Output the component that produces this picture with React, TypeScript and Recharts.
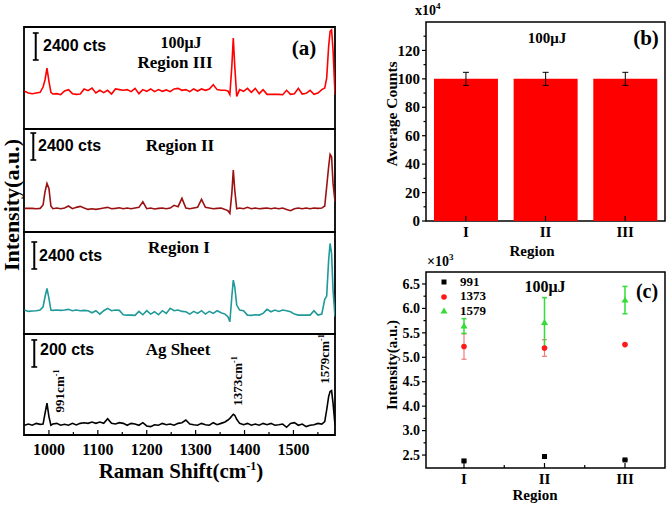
import React from "react";
import {
  LineChart,
  Line,
  XAxis,
  YAxis,
  ReferenceArea,
  ReferenceLine,
  BarChart,
  Bar,
  ErrorBar,
  ScatterChart,
  Scatter,
} from "recharts";

// ---- panel (a): SERS spectra, counts ----
const ramanShift = [
  950, 958, 966, 974, 982, 988, 992, 996, 1000, 1004, 1008, 1016, 1024, 1032, 1040, 1048, 1056, 1064,
  1072, 1080, 1088, 1096, 1104, 1112, 1120, 1128, 1136, 1144, 1152, 1160, 1168, 1176, 1184, 1192, 1200,
  1208, 1216, 1224, 1232, 1240, 1248, 1256, 1264, 1272, 1280, 1288, 1296, 1304, 1312, 1320, 1328, 1336,
  1344, 1352, 1360, 1366, 1370, 1374, 1377, 1380, 1384, 1390, 1398, 1406, 1414, 1422, 1430, 1438, 1446,
  1454, 1462, 1470, 1478, 1486, 1494, 1502, 1510, 1518, 1526, 1534, 1542, 1550, 1558, 1564, 1568, 1572,
  1575, 1578, 1581, 1585,
];

const regionIIICounts = [
  3350, 3200, 3140, 3200, 3260, 3730, 4380, 5420, 4240, 3260, 3110, 3140, 3050, 3380, 3500, 3140, 3080, 3110,
  3560, 3410, 3640, 3200, 3440, 3230, 3440, 3110, 3560, 3500, 3440, 3500, 3320, 3610, 3140, 3500, 3350,
  3560, 3320, 3500, 3350, 3470, 3320, 3560, 3610, 3440, 3500, 3320, 3560, 3380, 3560, 3440, 3560, 3940,
  3500, 3440, 3440, 3380, 3050, 5570, 8080, 5570, 2900, 3500, 3350, 3610, 3260, 3610, 3140, 3500, 3080,
  3080, 3080, 3080, 3050, 3440, 3080, 3140, 3610, 3110, 3170, 3440, 3080, 3200, 3500, 3640, 4530, 7340,
  8680, 8820, 7050, 3050,
];

const regionIICounts = [
  2100, 2100, 2100, 2070, 2100, 2400, 3580, 4320, 3880, 2310, 2070, 2130, 2070, 2130, 2310, 2070, 2190, 2280,
  2130, 2010, 2070, 2010, 2070, 2130, 2190, 2070, 2100, 2160, 2070, 2130, 2070, 2130, 2190, 2690, 2070,
  2130, 2040, 2100, 2130, 2070, 2130, 2370, 2250, 2990, 2130, 2070, 2130, 2190, 2900, 2190, 2130, 2070,
  2100, 2130, 2010, 1890, 1660, 3430, 5500, 3730, 2070, 2130, 2070, 2190, 2070, 2130, 2070, 2100, 2130,
  2070, 2130, 2070, 2130, 2010, 1890, 2070, 2130, 2070, 2130, 2070, 2130, 2100, 2130, 2310, 4020, 5800,
  6900, 6690, 4320, 2690,
];

const regionICounts = [
  2130, 2010, 2040, 2070, 2130, 2420, 3310, 4050, 3170, 2130, 2100, 2130, 2100, 2130, 2190, 2070, 2130, 2070,
  2100, 2070, 1890, 2070, 1770, 2070, 2280, 2070, 2130, 2100, 1710, 1680, 1680, 1660, 2010, 1710, 2070,
  1770, 1980, 1710, 2070, 1830, 2280, 2070, 2130, 2010, 1980, 1770, 2010, 1830, 2070, 1770, 2010, 1830,
  2070, 1890, 1770, 1540, 1090, 3310, 4790, 4200, 2570, 2130, 2070, 1680, 1660, 1710, 1680, 1830, 2190,
  1980, 2130, 2010, 2130, 2070, 1980, 1770, 1680, 1680, 1680, 1680, 2070, 1680, 1770, 3080, 3370, 6570,
  8050, 7160, 3900, 1540,
];

const agSheetCounts = [
  72, 81, 72, 86, 79, 81, 160, 235, 136, 72, 81, 86, 72, 79, 72, 86, 74, 86,
  91, 86, 96, 86, 96, 86, 121, 86, 81, 91, 86, 72, 86, 81, 72, 91, 67,
  62, 76, 72, 86, 76, 81, 72, 86, 91, 111, 81, 76, 72, 86, 76, 72, 91,
  76, 86, 96, 111, 123, 141, 153, 146, 116, 86, 76, 86, 72, 81, 72, 86, 76,
  86, 72, 76, 81, 57, 86, 91, 72, 81, 62, 72, 76, 86, 81, 99, 185, 284,
  321, 328, 235, 74,
];

const shiftTicks = [1000, 1050, 1100, 1150, 1200, 1250, 1300, 1350, 1400, 1450, 1500, 1550];
const shiftLabels = ["1000", "", "1100", "", "1200", "", "1300", "", "1400", "", "1500", ""];

// ---- panel (b): average counts (x10^4) ----
const regions = ["I", "II", "III"];
const averageCounts = [100, 100, 100];
const averageCountsErr = [4.6, 4.6, 4.6];
const countTicks = [0, 10, 20, 30, 40, 50, 60, 70, 80, 90, 100, 110, 120, 130];
const countLabels = ["0", "", "20", "", "40", "", "60", "", "80", "", "100", "", "120", ""];

// ---- panel (c): peak intensities (x10^3) ----
const peak991 = [2.38, 2.47, 2.4];
const peak991Err = [0.02, 0.01, 0.01];
const peak1373 = [5.22, 5.19, 5.26];
const peak1373Err = [0.26, 0.17, 0.01];
const peak1579 = [5.64, 5.71, 6.17];
const peak1579Err = [0.15, 0.51, 0.28];

const regionTicks = [1, 1.5, 2, 2.5, 3];
const regionTickLabels = ["I", "", "II", "", "III"];
// broken axis: 3.0 -> 4.0 takes one half-step
const intensityTicks = [2.5, 2.75, 3, 3.25, 3.5, 3.75, 4, 4.25, 4.5, 4.75, 5, 5.25, 5.5, 5.75, 6];
const intensityTickLabels = ["2.5", "", "3.0", "", "4.0", "", "4.5", "", "5.0", "", "5.5", "", "6.0", "", "6.5"];
const toAxis = (v: number) => (v >= 3.5 ? v - 0.5 : v);

const SERIF = "'Liberation Serif', 'Times New Roman', serif";
const SANS = "'Liberation Sans', Arial, sans-serif";
const SHIFT_DOMAIN: [number, number] = [949, 1585];

// tick drawn inward from a bottom axis, label below
function bottomTick(labelOf: (v: any) => string, fontSize: number, gap: number) {
  return (p: any) => {
    const label = labelOf(p.payload.value) ?? "";
    return (
      <g>
        <line x1={p.x} x2={p.x} y1={p.y} y2={p.y - (label ? 5 : 3)} stroke="#000" strokeWidth={1.2} />
        {label && (
          <text x={p.x} y={p.y + gap} textAnchor="middle" fontFamily={SERIF} fontWeight="bold" fontSize={fontSize} fill="#000">
            {label}
          </text>
        )}
      </g>
    );
  };
}

// tick drawn outward from a left axis, label to the left
function leftTick(values: number[], labels: string[], fontSize: number) {
  return (p: any) => {
    const label = labels[values.indexOf(p.payload.value)] ?? "";
    return (
      <g>
        <line x1={p.x} x2={p.x - (label ? 4 : 2.5)} y1={p.y} y2={p.y} stroke="#000" strokeWidth={1.2} />
        {label && (
          <text x={p.x - 6} y={p.y + fontSize * 0.34} textAnchor="end" fontFamily={SERIF} fontWeight="bold" fontSize={fontSize} fill="#000">
            {label}
          </text>
        )}
      </g>
    );
  };
}

interface SpectrumProps {
  counts: number[];
  color: string;
  top: number;
  plotHeight: number;
  yMax: number;
  bar: { x: number; y1: number; y2: number };
  withAxis?: boolean;
}

function Spectrum({ counts, color, top, plotHeight, yMax, bar, withAxis }: SpectrumProps) {
  const data = ramanShift.map((x, i) => ({ x, y: counts[i] }));
  const capHalf = 6;
  return (
    <div style={{ position: "absolute", left: 20, top: top - 4 }}>
      <LineChart
        width={319}
        height={plotHeight + 4 + (withAxis ? 30 : 4)}
        data={data}
        margin={{ top: 4, right: 4, bottom: withAxis ? 0 : 4, left: 4 }}
      >
        {withAxis ? (
          <XAxis
            dataKey="x"
            type="number"
            domain={SHIFT_DOMAIN}
            allowDataOverflow
            ticks={shiftTicks}
            interval={0}
            height={30}
            tickSize={0}
            tickMargin={0}
            tickLine={false}
            axisLine={false}
            tick={bottomTick((v) => shiftLabels[shiftTicks.indexOf(v)], 16, 20)}
          />
        ) : (
          <XAxis dataKey="x" type="number" domain={SHIFT_DOMAIN} allowDataOverflow hide />
        )}
        <YAxis type="number" domain={[0, yMax]} allowDataOverflow hide />
        <Line dataKey="y" type="linear" stroke={color} strokeWidth={1.6} dot={false} isAnimationActive={false} />
        <ReferenceLine segment={[{ x: bar.x, y: bar.y1 }, { x: bar.x, y: bar.y2 }]} stroke="#000" strokeWidth={2} ifOverflow="visible" />
        <ReferenceLine segment={[{ x: bar.x - capHalf, y: bar.y1 }, { x: bar.x + capHalf, y: bar.y1 }]} stroke="#000" strokeWidth={1.6} ifOverflow="visible" />
        <ReferenceLine segment={[{ x: bar.x - capHalf, y: bar.y2 }, { x: bar.x + capHalf, y: bar.y2 }]} stroke="#000" strokeWidth={1.6} ifOverflow="visible" />
        <ReferenceArea
          x1={SHIFT_DOMAIN[0]}
          x2={SHIFT_DOMAIN[1]}
          y1={0}
          y2={yMax}
          fill="none"
          fillOpacity={0}
          stroke="#000"
          strokeWidth={1.8}
          ifOverflow="visible"
        />
      </LineChart>
    </div>
  );
}

function AverageCountsChart() {
  const data = regions.map((region, i) => ({ region, avg: averageCounts[i], err: averageCountsErr[i] }));
  return (
    <div style={{ position: "absolute", left: 370, top: 12 }}>
      <BarChart width={296} height={240} data={data} margin={{ top: 10, right: 1, bottom: 0, left: 0 }} barCategoryGap="10%">
        <XAxis
          dataKey="region"
          height={31}
          interval={0}
          tickSize={0}
          tickMargin={0}
          tickLine={false}
          axisLine={false}
          tick={bottomTick((v) => String(v), 15, 16)}
        />
        <YAxis
          type="number"
          domain={[0, 140]}
          allowDataOverflow
          ticks={countTicks}
          interval={0}
          width={56}
          tickSize={0}
          tickMargin={0}
          tickLine={false}
          axisLine={false}
          tick={leftTick(countTicks, countLabels, 15)}
        />
        <Bar dataKey="avg" fill="#ff0000" isAnimationActive={false}>
          <ErrorBar dataKey="err" width={3} stroke="#000" strokeWidth={1} />
        </Bar>
        <ReferenceArea x1="I" x2="III" y1={0} y2={140} fill="none" fillOpacity={0} stroke="#000" strokeWidth={1.5} ifOverflow="visible" />
      </BarChart>
    </div>
  );
}

const squareShape = (p: any) => <rect x={p.cx - 2.5} y={p.cy - 2.5} width={5} height={5} fill="#000" />;
const circleShape = (p: any) => <circle cx={p.cx} cy={p.cy} r={2.8} fill="#ff1a1a" />;
const triangleShape = (p: any) => (
  <polygon points={`${p.cx},${p.cy - 3.5} ${p.cx + 3.5},${p.cy + 2.5} ${p.cx - 3.5},${p.cy + 2.5}`} fill="#33dd33" />
);

function PeakIntensityChart() {
  const rows = (vals: number[], errs: number[]) =>
    vals.map((v, i) => ({ x: i + 1, y: toAxis(v), err: errs[i] }));
  const xDomain: [number, number] = [0.528, 3.497];
  const yDomain: [number, number] = [2.235, 6.245];
  return (
    <div style={{ position: "absolute", left: 370, top: 262 }}>
      <ScatterChart width={296} height={240} margin={{ top: 10, right: 1, bottom: 0, left: 0 }}>
        <XAxis
          dataKey="x"
          type="number"
          domain={xDomain}
          allowDataOverflow
          ticks={regionTicks}
          interval={0}
          height={34}
          tickSize={0}
          tickMargin={0}
          tickLine={false}
          axisLine={false}
          tick={bottomTick((v) => regionTickLabels[regionTicks.indexOf(v)], 15, 16)}
        />
        <YAxis
          dataKey="y"
          type="number"
          domain={yDomain}
          allowDataOverflow
          ticks={intensityTicks}
          interval={0}
          width={56}
          tickSize={0}
          tickMargin={0}
          tickLine={false}
          axisLine={false}
          tick={leftTick(intensityTicks, intensityTickLabels, 14)}
        />
        <Scatter name="991" data={rows(peak991, peak991Err)} fill="#000" shape={squareShape} isAnimationActive={false}>
          <ErrorBar dataKey="err" direction="y" width={2.5} stroke="#000" strokeWidth={1} />
        </Scatter>
        <Scatter name="1373" data={rows(peak1373, peak1373Err)} fill="#ff1a1a" shape={circleShape} isAnimationActive={false}>
          <ErrorBar dataKey="err" direction="y" width={2.5} stroke="#f27a7a" strokeWidth={1.2} />
        </Scatter>
        <Scatter name="1579" data={rows(peak1579, peak1579Err)} fill="#33dd33" shape={triangleShape} isAnimationActive={false}>
          <ErrorBar dataKey="err" direction="y" width={2.5} stroke="#33dd33" strokeWidth={1.5} />
        </Scatter>
        <ReferenceArea
          x1={xDomain[0]}
          x2={xDomain[1]}
          y1={yDomain[0]}
          y2={yDomain[1]}
          fill="none"
          fillOpacity={0}
          stroke="#000"
          strokeWidth={1.5}
          ifOverflow="visible"
        />
      </ScatterChart>
    </div>
  );
}

function Txt({
  x, y, size, children, anchor = "start", family = SERIF, rotate = false,
}: {
  x: number; y: number; size: number; children: React.ReactNode; anchor?: string; family?: string; rotate?: boolean;
}) {
  return (
    <text
      x={rotate ? 0 : x}
      y={rotate ? 0 : y}
      transform={rotate ? `translate(${x},${y}) rotate(-90)` : undefined}
      fontFamily={family}
      fontWeight="bold"
      fontSize={size}
      textAnchor={anchor as any}
      fill="#000"
    >
      {children}
    </text>
  );
}

function Annotations() {
  const sup = (s: string, size: number, up: number) => (
    <tspan fontSize={size} dy={-up}>{s}</tspan>
  );
  return (
    <svg width={666} height={505} style={{ position: "absolute", left: 0, top: 0, pointerEvents: "none" }}>
      {/* panel (a) */}
      <Txt x={43} y={51} size={16} family={SANS}>2400 cts</Txt>
      <Txt x={181} y={48} size={16} anchor="middle">100μJ</Txt>
      <Txt x={175} y={68} size={17} anchor="middle">Region III</Txt>
      <Txt x={304} y={55} size={21} anchor="middle">(a)</Txt>
      <Txt x={38} y={151} size={16} family={SANS}>2400 cts</Txt>
      <Txt x={180} y={151} size={17} anchor="middle">Region II</Txt>
      <Txt x={39} y={261} size={16} family={SANS}>2400 cts</Txt>
      <Txt x={179} y={253} size={17} anchor="middle">Region I</Txt>
      <Txt x={40} y={355} size={16} family={SANS}>200 cts</Txt>
      <Txt x={178} y={355} size={17} anchor="middle">Ag Sheet</Txt>
      <Txt x={64} y={391} size={13} anchor="middle" rotate>
        991cm{sup("-1", 8, 5)}
      </Txt>
      <Txt x={242} y={381} size={13} anchor="middle" rotate>
        1373cm{sup("-1", 8, 5)}
      </Txt>
      <Txt x={329} y={359} size={13} anchor="middle" rotate>
        1579cm{sup("-1", 8, 5)}
      </Txt>
      <Txt x={181} y={478} size={21} anchor="middle">
        Raman Shift(cm{sup("-1", 12, 8)}<tspan dy={8}>)</tspan>
      </Txt>
      <Txt x={19} y={205} size={22} anchor="middle" rotate>Intensity(a.u.)</Txt>

      {/* panel (b) */}
      <Txt x={415} y={15} size={14}>
        x10{sup("4", 9, 6)}
      </Txt>
      <Txt x={547} y={43} size={15} anchor="middle">100μJ</Txt>
      <Txt x={646} y={45} size={21} anchor="middle">(b)</Txt>
      <Txt x={397} y={114} size={15.5} anchor="middle" rotate>Average Counts</Txt>
      <Txt x={532} y={256} size={15} anchor="middle">Region</Txt>

      {/* panel (c) */}
      <Txt x={427} y={266} size={14}>
        ×10{sup("3", 9, 6)}
      </Txt>
      <Txt x={545} y={292} size={16} anchor="middle">100μJ</Txt>
      <Txt x={647} y={298} size={20} anchor="middle">(c)</Txt>
      <Txt x={397} y={365} size={15} anchor="middle" rotate>Intensity(a.u.)</Txt>
      <Txt x={535} y={500} size={15} anchor="middle">Region</Txt>

      {/* legend of (c) */}
      <rect x={441.5} y={279.5} width={5} height={5} fill="#000" />
      <Txt x={460} y={286} size={13}>991</Txt>
      <circle cx={444} cy={297} r={2.8} fill="#ff1a1a" />
      <Txt x={460} y={300} size={13}>1373</Txt>
      <polygon points="444,307.5 447.5,313.5 440.5,313.5" fill="#33dd33" />
      <Txt x={460} y={315} size={13}>1579</Txt>
    </svg>
  );
}

export default function App() {
  return (
    <div style={{ position: "absolute", left: 0, top: 0, width: 666, height: 505, background: "#fff", overflow: "hidden" }}>
      <Spectrum counts={regionIIICounts} color="#ff0000" top={27} plotHeight={102} yMax={9068} bar={{ x: 973, y1: 8535, y2: 6135 }} />
      <Spectrum counts={regionIICounts} color="#9b1111" top={129} plotHeight={103} yMax={9157} bar={{ x: 968, y1: 8800, y2: 6400 }} />
      <Spectrum counts={regionICounts} color="#1f9999" top={232} plotHeight={102} yMax={9068} bar={{ x: 970, y1: 8180, y2: 5780 }} />
      <Spectrum counts={agSheetCounts} color="#000" top={334} plotHeight={101} yMax={747} bar={{ x: 970, y1: 703, y2: 503 }} withAxis />
      <AverageCountsChart />
      <PeakIntensityChart />
      <Annotations />
    </div>
  );
}
